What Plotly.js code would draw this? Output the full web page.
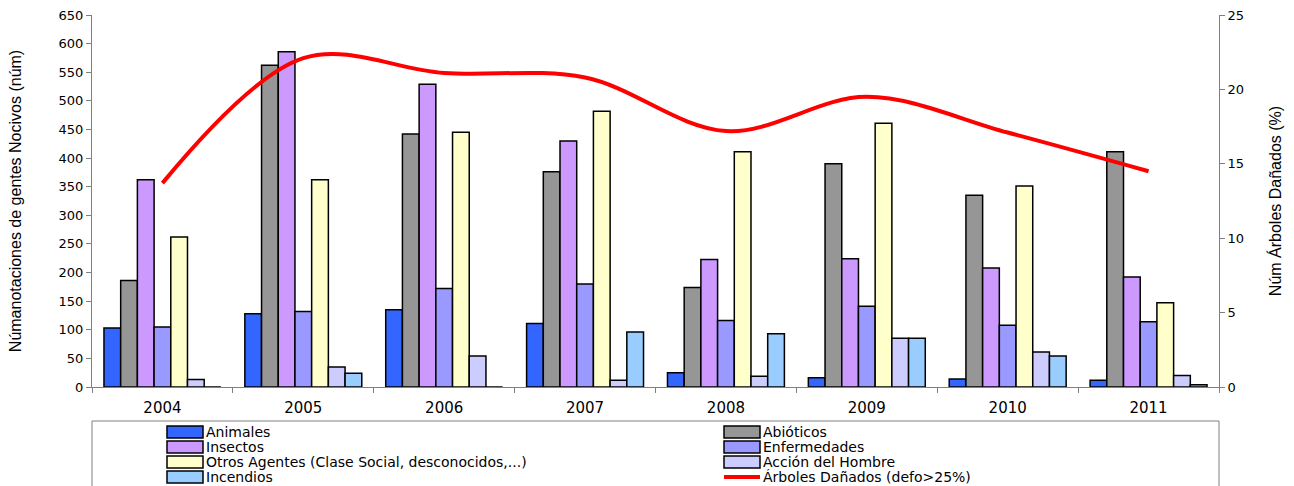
<!DOCTYPE html>
<html>
<head>
<meta charset="utf-8">
<script src="https://cdn.plot.ly/plotly-3.0.1.min.js"></script>
<style>html,body{margin:0;padding:0;background:#fff;}#chart{width:1294px;height:486px;}</style>
</head>
<body>
<div id="chart"></div>
<script>
const years = ['2004','2005','2006','2007','2008','2009','2010','2011'];
const animales     = [103, 128, 135, 111, 25, 16, 14, 12];
const abioticos    = [186, 562, 442, 376, 174, 390, 335, 411];
const insectos     = [362, 586, 529, 430, 223, 224, 208, 192];
const enfermedades = [105, 132, 172, 180, 116, 141, 108, 114];
const otros        = [262, 362, 445, 482, 411, 461, 351, 147];
const accion       = [13, 35, 54, 12, 19, 85, 61, 20];
const incendios    = [0, 24, 0, 96, 93, 85, 54, 4];
const arboles      = [13.7, 22.1, 21.1, 20.8, 17.2, 19.5, 17.1, 14.5];

const barNames = ['Animales','Abióticos','Insectos','Enfermedades','Otros Agentes (Clase Social, desconocidos,...)','Acción del Hombre','Incendios'];
const lineName = 'Árboles Dañados (defo>25%)';
const barData = [animales, abioticos, insectos, enfermedades, otros, accion, incendios];
const barColors = ['#3366FF','#969696','#CC99FF','#9999FF','#FFFFCC','#CCCCFF','#99CCFF'];
const lineColor = '#FF0000';

const traces = barNames.map((n,i)=>({
  type:'bar', name:n, x:years, y:barData[i],
  marker:{color:barColors[i], line:{color:'#000000', width:1.5}},
  yaxis:'y'
}));
traces.push({
  type:'scatter', mode:'lines', name:lineName,
  x:years, y:arboles, yaxis:'y2',
  line:{color:lineColor, width:4, shape:'spline', smoothing:1}
});

// Custom legend (two columns, row-major), in paper coordinates
const plotL = 92, plotW = 1127, plotB = 387, plotH = 372;
const px2x = p => (p - plotL) / plotW;
const px2y = p => (plotB - p) / plotH;
const colSwatch = [167, 724];
const rowY = [432, 447, 462, 477];
const shapes = [{type:'rect', xref:'paper', yref:'paper', x0:0, x1:1, y0:px2y(500), y1:px2y(421),
  line:{color:'#808080', width:1}, fillcolor:'rgba(0,0,0,0)', layer:'below'}];
const annotations = [];
const entries = barNames.map((n,i)=>({name:n, color:barColors[i], kind:'bar'}));
entries.push({name:lineName, color:lineColor, kind:'line'});
entries.forEach((e,i)=>{
  const c = i % 2, r = Math.floor(i / 2);
  const sx = colSwatch[c], sy = rowY[r];
  if (e.kind === 'bar') {
    shapes.push({type:'rect', xref:'paper', yref:'paper', x0:px2x(sx), x1:px2x(sx+36),
      y0:px2y(sy+6), y1:px2y(sy-6), fillcolor:e.color, line:{color:'#000', width:1.5}});
  } else {
    shapes.push({type:'line', xref:'paper', yref:'paper', x0:px2x(sx), x1:px2x(sx+36),
      y0:px2y(sy), y1:px2y(sy), line:{color:e.color, width:4}});
  }
  annotations.push({xref:'paper', yref:'paper', x:px2x(sx+38), y:px2y(sy), xanchor:'left', yanchor:'middle',
    text:e.name, showarrow:false, borderpad:0,
    font:{family:'DejaVu Sans, sans-serif', size:14, color:'#000'}});
});

const layout = {
  width:1294, height:486,
  margin:{l:92, r:75, t:15, b:99},
  paper_bgcolor:'#fff', plot_bgcolor:'#fff',
  font:{family:'DejaVu Sans, sans-serif', size:13, color:'#000'},
  barmode:'group', bargap:0.17, bargroupgap:0,
  showlegend:false,
  xaxis:{
    type:'category', showgrid:false, showline:true, linecolor:'#808080', linewidth:1,
    ticks:'outside', tickson:'boundaries', ticklen:5, tickcolor:'#808080',
    ticklabelstandoff:7,
    tickfont:{family:'DejaVu Sans, sans-serif', size:15, color:'#000'}, zeroline:false
  },
  yaxis:{
    range:[0,650], dtick:50, showgrid:false, zeroline:false,
    showline:true, linecolor:'#808080', linewidth:1,
    ticks:'outside', ticklen:5, tickcolor:'#808080',
    tickfont:{family:'DejaVu Sans, sans-serif', size:13, color:'#000'},
    title:{text:'Númanotaciones de gentes Nocivos (núm)', standoff:32,
      font:{family:'Liberation Sans, Arial, sans-serif', size:16, color:'#000'}}
  },
  yaxis2:{
    range:[0,25], dtick:5, overlaying:'y', side:'right', showgrid:false, zeroline:false,
    showline:true, linecolor:'#808080', linewidth:1,
    ticks:'outside', ticklen:5, tickcolor:'#808080',
    tickfont:{family:'DejaVu Sans, sans-serif', size:13, color:'#000'},
    title:{text:'Núm Árboles Dañados (%)', standoff:26,
      font:{family:'Liberation Sans, Arial, sans-serif', size:16, color:'#000'}}
  },
  shapes:shapes,
  annotations:annotations
};
Plotly.newPlot('chart', traces, layout, {displayModeBar:false, staticPlot:true});
</script>
</body>
</html>
